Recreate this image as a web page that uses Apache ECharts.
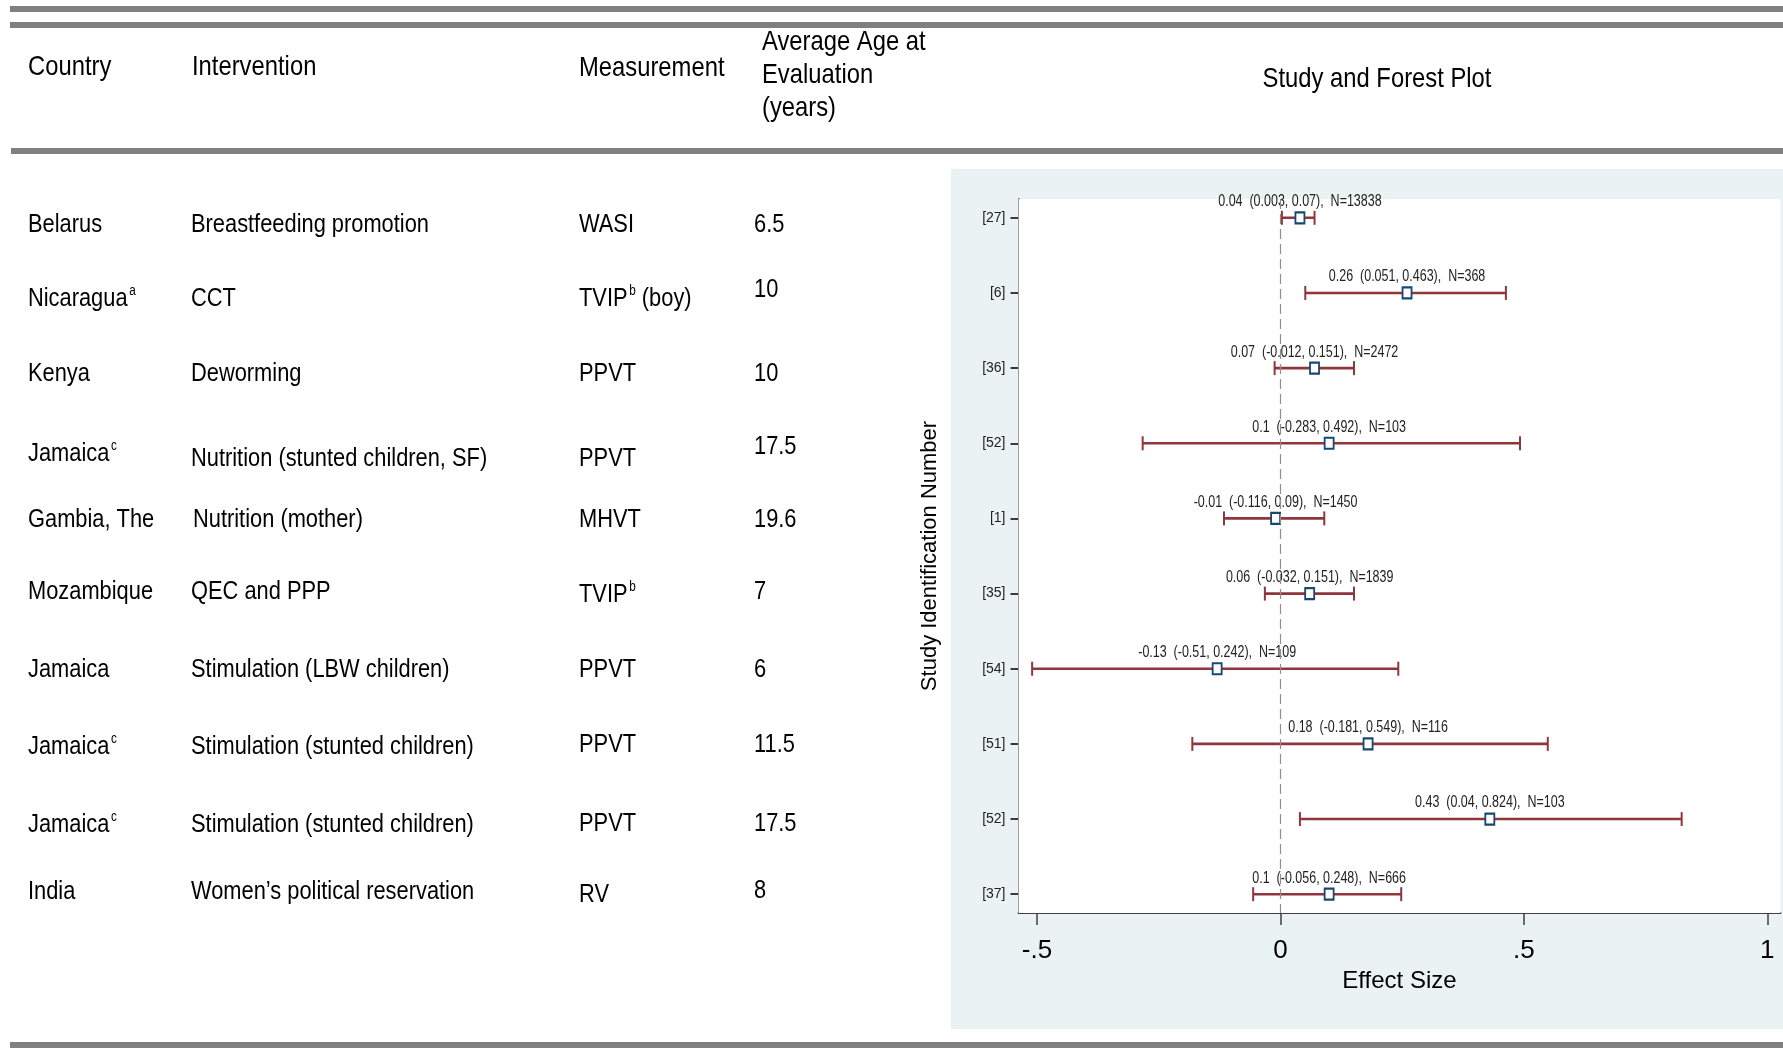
<!DOCTYPE html>
<html>
<head>
<meta charset="utf-8">
<script src="https://cdn.jsdelivr.net/npm/echarts@6/dist/echarts.min.js"></script>
<style>
  html, body { margin: 0; padding: 0; background: #fff; }
  #main { width: 1783px; height: 1056px; }
</style>
</head>
<body>
<div id="main"></div>
<script>
// ---- table columns ----
const countries = ['Belarus', 'Nicaragua', 'Kenya', 'Jamaica', 'Gambia, The', 'Mozambique', 'Jamaica', 'Jamaica', 'Jamaica', 'India'];
const countryNotes = ['', 'a', '', 'c', '', '', '', 'c', 'c', ''];
const interventions = ['Breastfeeding promotion', 'CCT', 'Deworming', 'Nutrition (stunted children, SF)', 'Nutrition (mother)',
  'QEC and PPP', 'Stimulation (LBW children)', 'Stimulation (stunted children)', 'Stimulation (stunted children)',
  'Women\u2019s political reservation'];
const measurements = ['WASI', 'TVIP', 'PPVT', 'PPVT', 'MHVT', 'TVIP', 'PPVT', 'PPVT', 'PPVT', 'RV'];
const measurementNotes = ['', 'b', '', '', '', 'b', '', '', '', ''];
const measurementSuffix = ['', ' (boy)', '', '', '', '', '', '', '', ''];
const ages = ['6.5', '10', '10', '17.5', '19.6', '7', '6', '11.5', '17.5', '8'];

// ---- forest plot ----
const studyIds = ['[27]', '[6]', '[36]', '[52]', '[1]', '[35]', '[54]', '[51]', '[52]', '[37]'];
const effect = [0.04, 0.26, 0.07, 0.1, -0.01, 0.06, -0.13, 0.18, 0.43, 0.1];
const ciLow = [0.003, 0.051, -0.012, -0.283, -0.116, -0.032, -0.51, -0.181, 0.04, -0.056];
const ciHigh = [0.07, 0.463, 0.151, 0.492, 0.09, 0.151, 0.242, 0.549, 0.824, 0.248];
const sampleN = [13838, 368, 2472, 103, 1450, 1839, 109, 116, 103, 666];
const xTicks = [-0.5, 0, 0.5, 1];

// ---- layout (pixels) ----
const SANS = '"Liberation Sans", Arial, Helvetica, sans-serif';
const NARROW_X = 0.84;      // horizontal squeeze for the condensed look of the text
const colX = [28, 191, 579, 754];
const rowY = [225, 299, 374, 454, 520, 592, 670, 747, 825, 892];
const interventionDy = [0, 0, 0, 5, 0, 0, 0, 0, 0, 0];
const interventionDx = [0, 0, 0, 0, 2, 0, 0, 0, 0, 0];
const measurementDy = [0, 0, 0, 5, 0, 3, 0, -2, -1, 3];
const ageDy = [0, -9, 0, -7, 0, 0, 0, -2, -1, -1];

const GRID = { left: 1018.5, top: 199, width: 762, height: 714 };
const MAROON = '#90353B';
const NAVY = '#1A476F';

const richBase = {
  t: { fontFamily: SANS, fontSize: 26, fill: '#000', lineHeight: 30 },
  s: { fontFamily: SANS, fontSize: 14, fill: '#000', verticalAlign: 'top', lineHeight: 30, padding: [0, 0, 0, 2] }
};

function cell(x, y, text, note, suffix) {
  let str = '{t|' + text + '}';
  if (note) str += '{s|' + note + '}';
  if (suffix) str += '{t|' + suffix + '}';
  return {
    type: 'text', x: x, y: y, scaleX: NARROW_X,
    style: { text: str, rich: richBase, verticalAlign: 'middle' }
  };
}

function head(x, y, text, align) {
  return {
    type: 'text', x: x, y: y, scaleX: 0.85,
    style: { text: text, font: '28px ' + SANS, fill: '#000', align: align || 'left', verticalAlign: 'middle' }
  };
}

const graphics = [];
// panel background behind the forest plot
graphics.push({ type: 'rect', z: -5, shape: { x: 951, y: 169, width: 832, height: 860 }, style: { fill: '#EAF2F3' } });
// horizontal rules
[[10, 6], [10, 22], [11, 148], [10, 1042]].forEach(function (r) {
  graphics.push({ type: 'rect', shape: { x: r[0], y: r[1], width: 1783 - r[0], height: 6 }, style: { fill: '#808080' } });
});
// header
graphics.push(head(28, 67, 'Country'));
graphics.push(head(192, 67, 'Intervention'));
graphics.push(head(579, 68, 'Measurement'));
graphics.push(head(762, 42, 'Average Age at'));
graphics.push(head(762, 75, 'Evaluation'));
graphics.push(head(762, 108, '(years)'));
graphics.push(head(1377, 79, 'Study and Forest Plot', 'center'));
// table body
for (let i = 0; i < countries.length; i++) {
  graphics.push(cell(colX[0], rowY[i], countries[i], countryNotes[i], ''));
  graphics.push(cell(colX[1] + interventionDx[i], rowY[i] + interventionDy[i], interventions[i], '', ''));
  graphics.push(cell(colX[2], rowY[i] + measurementDy[i], measurements[i], measurementNotes[i], measurementSuffix[i]));
  graphics.push(cell(colX[3], rowY[i] + ageDy[i], ages[i], '', ''));
}

const rows = studyIds.map(function (_, i) { return i + 1; });
const ciData = rows.map(function (r, i) { return [ciLow[i], ciHigh[i], r, effect[i]]; });
const pointData = rows.map(function (r, i) { return [effect[i], r]; });

function estimateText(i) {
  return String(effect[i]) + '  (' + String(ciLow[i]) + ', ' + String(ciHigh[i]) + '),  N=' + sampleN[i];
}

const chart = echarts.init(document.getElementById('main'), null, { renderer: 'canvas' });
chart.setOption({
  backgroundColor: '#fff',
  animation: false,
  graphic: graphics,
  grid: Object.assign({ show: true, backgroundColor: '#fff', borderWidth: 0, z: 2 }, GRID),
  xAxis: {
    type: 'value', min: -0.538, max: 1.027,
    name: 'Effect Size', nameLocation: 'middle', nameGap: 53,
    nameTextStyle: { fontFamily: SANS, fontSize: 24, color: '#000' },
    axisLine: { show: true, onZero: false, lineStyle: { color: '#404040', width: 2 } },
    axisTick: { show: true, length: 12, customValues: xTicks, lineStyle: { color: '#404040', width: 1.5 } },
    axisLabel: {
      customValues: xTicks, margin: 25, fontFamily: SANS, fontSize: 26, color: '#000',
      formatter: function (v) { return v === 0 ? '0' : String(v).replace('0.', '.'); }
    },
    splitLine: { show: false }
  },
  yAxis: {
    type: 'value', inverse: true, min: 0.75, max: 10.25,
    name: 'Study Identification Number', nameLocation: 'middle', nameGap: 78, nameRotate: 90,
    nameTextStyle: { fontFamily: SANS, fontSize: 22, color: '#000' },
    axisLine: { show: true, onZero: false, lineStyle: { color: '#000', width: 1.5 } },
    axisTick: { show: true, length: 8, customValues: rows, lineStyle: { color: '#000', width: 1.5 } },
    axisLabel: {
      customValues: rows, margin: 13, fontFamily: SANS, fontSize: 14, color: '#222',
      formatter: function (v) { return studyIds[v - 1]; }
    },
    splitLine: { show: false }
  },
  series: [
    {
      // confidence intervals with end caps, and the estimate text above each row
      type: 'custom',
      z: 3,
      data: ciData,
      encode: { x: [0, 1], y: 2 },
      renderItem: function (params, api) {
        const a = api.coord([api.value(0), api.value(2)]);
        const b = api.coord([api.value(1), api.value(2)]);
        const m = api.coord([api.value(3), api.value(2)]);
        const cap = 7;
        return {
          type: 'group',
          children: [
            { type: 'line', shape: { x1: a[0], y1: a[1], x2: b[0], y2: b[1] }, style: { stroke: MAROON, lineWidth: 2.6 } },
            { type: 'line', shape: { x1: a[0], y1: a[1] - cap, x2: a[0], y2: a[1] + cap }, style: { stroke: MAROON, lineWidth: 2 } },
            { type: 'line', shape: { x1: b[0], y1: b[1] - cap, x2: b[0], y2: b[1] + cap }, style: { stroke: MAROON, lineWidth: 2 } },
            {
              type: 'text', x: m[0], y: m[1] - 16, scaleX: 0.78, z2: 10,
              style: { text: estimateText(params.dataIndex), font: '16px ' + SANS, fill: '#222', align: 'center', verticalAlign: 'middle' }
            }
          ]
        };
      }
    },
    {
      type: 'scatter',
      z: 4,
      data: pointData,
      symbol: 'rect',
      symbolSize: [9, 11],
      itemStyle: { color: '#fff', borderColor: NAVY, borderWidth: 2, opacity: 1 },
      markLine: {
        silent: true, symbol: 'none', label: { show: false },
        lineStyle: { color: '#8f8f8f', type: [10, 5], width: 1.2 },
        data: [{ xAxis: 0 }]
      }
    }
  ]
});
</script>
</body>
</html>
